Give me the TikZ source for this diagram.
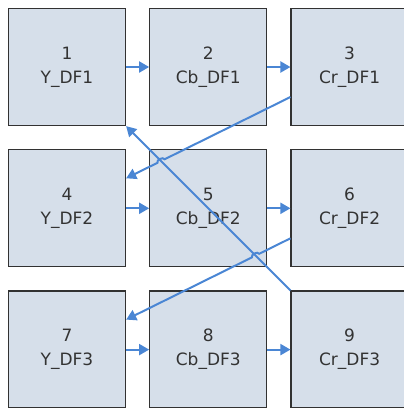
\documentclass[tikz,border=0pt]{standalone}
\usepackage{fontspec}
\setmainfont{DejaVu Sans}
\usepackage{tikz}
\usetikzlibrary{positioning,arrows.meta,calc,intersections}

\definecolor{cellfill}{RGB}{214,223,234}
\definecolor{celldraw}{RGB}{50,50,50}
\definecolor{flowblue}{RGB}{74,134,212}

\begin{document}
\begin{tikzpicture}[
    node distance=23pt,
    cell/.style={draw=celldraw, line width=1.3pt, fill=cellfill,
      minimum width=117pt, minimum height=117pt, inner sep=0pt,
      align=center, font=\fontsize{17}{24}\selectfont, text=black!80},
    flow/.style={draw=flowblue, line width=2pt,
      -{Triangle[length=10pt,width=11pt]}}
  ]

  \useasboundingbox (0,0) rectangle (404pt,-408pt);

  \node[cell] (c1) at (67pt,-67pt) {1\\Y\_DF1};
  \node[cell] (c2) [right=of c1] {2\\Cb\_DF1};
  \node[cell] (c3) [right=of c2] {3\\Cr\_DF1};
  \node[cell] (c4) [below=of c1] {4\\Y\_DF2};
  \node[cell] (c5) [right=of c4] {5\\Cb\_DF2};
  \node[cell] (c6) [right=of c5] {6\\Cr\_DF2};
  \node[cell] (c7) [below=of c4] {7\\Y\_DF3};
  \node[cell] (c8) [right=of c7] {8\\Cb\_DF3};
  \node[cell] (c9) [right=of c8] {9\\Cr\_DF3};

  % rows
  \path[flow] (c1) -- (c2);
  \path[flow] (c2) -- (c3);
  \path[flow] (c4) -- (c5);
  \path[flow] (c5) -- (c6);
  \path[flow] (c7) -- (c8);
  \path[flow] (c8) -- (c9);

  % back to the first cell
  \path[flow, name path=back] (c9.north west) -- (c1.south east);

  % row changes, with a hop over the long line
  \coordinate (a3) at ([yshift=-30pt]c3.west);
  \coordinate (b4) at ([yshift=30pt]c4.east);
  \coordinate (a6) at ([yshift=-30pt]c6.west);
  \coordinate (b7) at ([yshift=30pt]c7.east);
  \path[name path=d1] (a3) -- (b4);
  \path[name path=d2] (a6) -- (b7);
  \path[name intersections={of=back and d1, by=x1}];
  \path[name intersections={of=back and d2, by=x2}];

  \path[flow] (a3) -- ($(x1)!4pt!(a3)$) to[bend right=90] ($(x1)!4pt!(b4)$) -- (b4);
  \path[flow] (a6) -- ($(x2)!4pt!(a6)$) to[bend right=90] ($(x2)!4pt!(b7)$) -- (b7);

\end{tikzpicture}
\end{document}
